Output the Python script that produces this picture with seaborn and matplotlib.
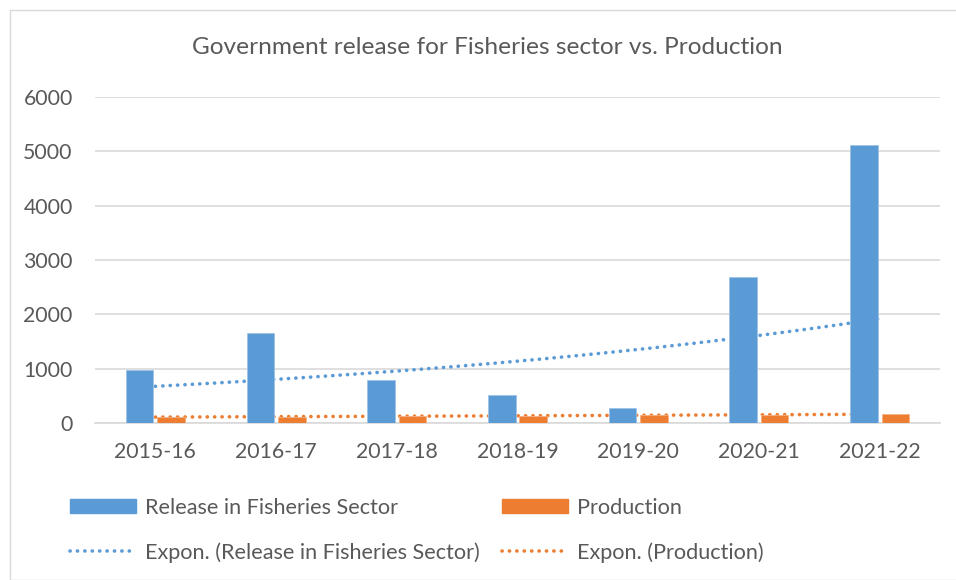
import numpy as np
import pandas as pd
import matplotlib
matplotlib.use("Agg")
import matplotlib.pyplot as plt
from matplotlib.patches import Patch, Rectangle
from matplotlib.lines import Line2D
import seaborn as sns

years = ["2015-16", "2016-17", "2017-18", "2018-19", "2019-20", "2020-21", "2021-22"]
release = [970, 1650, 800, 520, 270, 2680, 5120]
production = [108, 114, 127, 135, 142, 147, 162]
series_names = ["Release in Fisheries Sector", "Production"]
y_ticks = [0, 1000, 2000, 3000, 4000, 5000, 6000]

BLUE = "#5B9BD5"
ORANGE = "#ED7D31"
GRAY = "#595959"

sns.set_theme(style="white")
plt.rcParams["font.family"] = ["Lato", "DejaVu Sans"]

df = pd.DataFrame({
    "Year": years * 2,
    "Value": release + production,
    "Series": [series_names[0]] * len(years) + [series_names[1]] * len(years),
})

fig = plt.figure(figsize=(9.56, 5.8), dpi=100)
ax = fig.add_axes([95 / 956, 1 - 423 / 580, (940 - 95) / 956, (423 - 97) / 580])

sns.barplot(data=df, x="Year", y="Value", hue="Series", palette=[BLUE, ORANGE],
            saturation=1, width=0.52, gap=0.12, ax=ax, legend=False, zorder=3,
            edgecolor="#9DC3E6", linewidth=0.6)
for p in ax.patches[len(years):]:
    p.set_edgecolor("#F4B183")

# exponential trendlines (Excel style fits)
xs = np.arange(len(years))
xfine = np.linspace(0, len(years) - 1, 200)
DOT = (0, (0.05, 2.0))
for vals, col in [(release, BLUE), (production, ORANGE)]:
    b, a = np.polyfit(xs + 1, np.log(vals), 1)
    ax.plot(xfine, np.exp(a + b * (xfine + 1)), color=col, lw=2.6,
            linestyle=DOT, dash_capstyle="round", zorder=2)

ax.set_xlim(-0.5, len(years) - 0.5)
ax.set_ylim(0, 6000)
ax.set_yticks(y_ticks)
ax.set_yticklabels([str(t) for t in y_ticks])
ax.yaxis.grid(True, color="#D9D9D9", lw=1.2)
ax.set_axisbelow(True)
for s in ["top", "right", "left"]:
    ax.spines[s].set_visible(False)
ax.spines["bottom"].set_color("#D9D9D9")
ax.spines["bottom"].set_linewidth(1.2)
ax.set_xlabel("")
ax.set_ylabel("")
ax.tick_params(axis="both", length=0, labelsize=15.3, labelcolor=GRAY)
ax.tick_params(axis="x", pad=14)
ax.tick_params(axis="y", pad=16)

fig.text(487 / 956, 1 - 47 / 580, "Government release for Fisheries sector vs. Production",
         ha="center", va="center", fontsize=17.6, color=GRAY)

handles = [
    Patch(facecolor=BLUE, edgecolor=BLUE),
    Line2D([0], [0], color=BLUE, lw=2.6, linestyle=DOT, dash_capstyle="round"),
    Patch(facecolor=ORANGE, edgecolor=ORANGE),
    Line2D([0], [0], color=ORANGE, lw=2.6, linestyle=DOT, dash_capstyle="round"),
]
labels = [series_names[0], "Expon. (Release in Fisheries Sector)",
          series_names[1], "Expon. (Production)"]
fig.legend(handles, labels, ncol=2, loc="upper left",
           bbox_to_anchor=(50 / 956, 1 - 478 / 580), frameon=False,
           fontsize=15.6, labelcolor=GRAY, handlelength=3.05, handleheight=0.65,
           handletextpad=0.42, columnspacing=1.05, labelspacing=1.13)

fig.add_artist(Rectangle((10 / 956, 0), 1, 1 - 10 / 580, transform=fig.transFigure,
                         fill=False, edgecolor="#D9D9D9", lw=1.0))

fig.savefig("out.png", dpi=100, facecolor="white")
